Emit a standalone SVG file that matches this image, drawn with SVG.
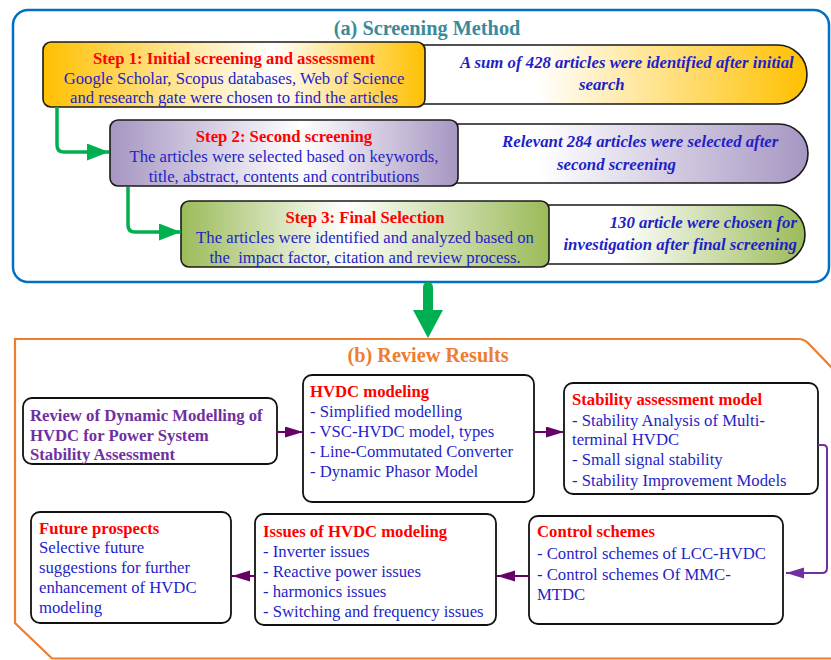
<svg xmlns="http://www.w3.org/2000/svg" width="831" height="660" viewBox="0 0 831 660">
<style>
text{font-family:"Liberation Serif","Times New Roman",serif;font-size:16.7px}
.t{font-weight:bold;fill:#FF0000}
.b{fill:#1F1FC8}
.c{font-weight:bold;font-style:italic;fill:#1F1FC8;font-size:16.8px}
.p{font-weight:bold;fill:#7030A0}
.box{stroke:#1a1a1a;stroke-width:1.6}
.node{fill:#fff;stroke:#111;stroke-width:1.8}
.g{fill:none;stroke:#00B050;stroke-width:3.5}
.pl{fill:none;stroke:#660066;stroke-width:2}
</style>
<defs>
<linearGradient id="o1" x1="0" x2="1"><stop offset="0" stop-color="#FFC000"/><stop offset="0.6" stop-color="#fff"/><stop offset="1" stop-color="#FFC000"/></linearGradient>
<linearGradient id="o2" x1="0" x2="1"><stop offset="0" stop-color="#fff"/><stop offset="0.3" stop-color="#fff"/><stop offset="1" stop-color="#FFC000"/></linearGradient>
<linearGradient id="v1" x1="0" x2="1"><stop offset="0" stop-color="#A696C2"/><stop offset="0.55" stop-color="#fff"/><stop offset="1" stop-color="#A696C2"/></linearGradient>
<linearGradient id="v2" x1="0" x2="1"><stop offset="0" stop-color="#fff"/><stop offset="0.25" stop-color="#fff"/><stop offset="1" stop-color="#A696C2"/></linearGradient>
<linearGradient id="e1" x1="0" x2="1"><stop offset="0" stop-color="#9BBB59"/><stop offset="0.45" stop-color="#fff"/><stop offset="1" stop-color="#9BBB59"/></linearGradient>
<linearGradient id="e2" x1="0" x2="1"><stop offset="0" stop-color="#fff"/><stop offset="0.3" stop-color="#fff"/><stop offset="1" stop-color="#9BBB59"/></linearGradient>
<marker id="ag" markerUnits="userSpaceOnUse" markerWidth="23" markerHeight="18" refX="22" refY="8.5" orient="auto"><path d="M0,0 L22,8.5 L0,17 Z" fill="#00B050"/></marker>
<marker id="ap" markerUnits="userSpaceOnUse" markerWidth="19" markerHeight="12" refX="18" refY="5.5" orient="auto"><path d="M0,0 L18,5.5 L0,11 Z" fill="#660066"/></marker>
<marker id="av" markerUnits="userSpaceOnUse" markerWidth="19" markerHeight="12" refX="18" refY="5.5" orient="auto"><path d="M0,0 L18,5.5 L0,11 Z" fill="#7030A0"/></marker>
</defs>

<g id="screening-frame">
<rect x="13" y="10" width="816" height="272" rx="15" fill="none" stroke="#0070C0" stroke-width="2.5"/>
<text x="427" y="35" text-anchor="middle" style="font-size:20.3px;font-weight:bold;fill:#3A8A9C">(a) Screening Method</text>
</g>

<g id="callout1">
<path class="box" d="M420,45 H777.5 A29.5,29.5 0 0 1 777.5,104 H420 Z" fill="url(#o2)"/>
<text class="c" x="460" y="68">A sum of 428 articles were identified after initial</text>
<text class="c" x="579" y="90">search</text>
</g>
<g id="step1">
<rect class="box" x="43" y="42" width="382" height="65" rx="8" fill="url(#o1)"/>
<text class="t" x="234" y="64" text-anchor="middle">Step 1: Initial screening and assessment</text>
<text class="b" x="234" y="84" text-anchor="middle">Google Scholar, Scopus databases, Web of Science</text>
<text class="b" x="234" y="103" text-anchor="middle">and research gate were chosen to find the articles</text>
</g>

<g id="callout2">
<path class="box" d="M450,124 H778.5 A29.5,29.5 0 0 1 778.5,183 H450 Z" fill="url(#v2)"/>
<text class="c" x="502" y="147">Relevant 284 articles were selected after</text>
<text class="c" x="557" y="170">second screening</text>
</g>
<g id="step2">
<rect class="box" x="110" y="120" width="348" height="66" rx="8" fill="url(#v1)"/>
<text class="t" x="284" y="142" text-anchor="middle">Step 2: Second screening</text>
<text class="b" x="284" y="162" text-anchor="middle">The articles were selected based on keywords,</text>
<text class="b" x="284" y="182" text-anchor="middle">title, abstract, contents and contributions</text>
</g>

<g id="callout3">
<path class="box" d="M540,205 H775.5 A29.5,29.5 0 0 1 775.5,264 H540 Z" fill="url(#e2)"/>
<text class="c" x="797" y="228" text-anchor="end">130 article were chosen for</text>
<text class="c" x="797" y="250" text-anchor="end">investigation after final screening</text>
</g>
<g id="step3">
<rect class="box" x="181" y="201" width="368" height="66" rx="8" fill="url(#e1)"/>
<text class="t" x="365" y="223" text-anchor="middle">Step 3: Final Selection</text>
<text class="b" x="365" y="243" text-anchor="middle">The articles were identified and analyzed based on</text>
<text class="b" x="365" y="263" text-anchor="middle" xml:space="preserve">the  impact factor, citation and review process.</text>
</g>

<g id="review-frame">
<path d="M834,370 L808,343 Q804,339 798,339 H15 V623 L52,658.5 H834" fill="none" stroke="#ED7D31" stroke-width="2.2"/>
<text x="428" y="362" text-anchor="middle" style="font-size:20.3px;font-weight:bold;fill:#ED7D31">(b) Review Results</text>
</g>

<g id="review">
<rect class="node" x="23" y="398" width="254" height="66" rx="9"/>
<text class="p" x="30" y="421">Review of Dynamic Modelling of</text>
<text class="p" x="30" y="441">HVDC for Power System</text>
<text class="p" x="30" y="460">Stability Assessment</text>
</g>

<g id="hvdc-modeling">
<rect class="node" x="303" y="375" width="231" height="127" rx="9"/>
<text class="t" x="310" y="397">HVDC modeling</text>
<text class="b" x="310" y="417">- Simplified modelling</text>
<text class="b" x="310" y="437">- VSC-HVDC model, types</text>
<text class="b" x="310" y="457">- Line-Commutated Converter</text>
<text class="b" x="310" y="477">- Dynamic Phasor Model</text>
</g>

<g id="stability">
<rect class="node" x="564" y="383" width="254" height="111" rx="9"/>
<text class="t" x="572" y="405">Stability assessment model</text>
<text class="b" x="572" y="426">- Stability Analysis of Multi-</text>
<text class="b" x="572" y="445">terminal HVDC</text>
<text class="b" x="572" y="465">- Small signal stability</text>
<text class="b" x="572" y="486">- Stability Improvement Models</text>
</g>

<g id="control">
<rect class="node" x="529" y="516" width="254" height="108" rx="9"/>
<text class="t" x="537" y="537">Control schemes</text>
<text class="b" x="537" y="559">- Control schemes of LCC-HVDC</text>
<text class="b" x="537" y="580">- Control schemes Of MMC-</text>
<text class="b" x="537" y="600">MTDC</text>
</g>

<g id="issues">
<rect class="node" x="255" y="514" width="241" height="111" rx="9"/>
<text class="t" x="263" y="537">Issues of HVDC modeling</text>
<text class="b" x="263" y="557">- Inverter issues</text>
<text class="b" x="263" y="577">- Reactive power issues</text>
<text class="b" x="263" y="597">- harmonics issues</text>
<text class="b" x="263" y="617">- Switching and frequency issues</text>
</g>

<g id="future">
<rect class="node" x="31" y="512" width="200" height="111" rx="9"/>
<text class="t" x="39" y="534">Future prospects</text>
<text class="b" x="39" y="553">Selective future</text>
<text class="b" x="39" y="573">suggestions for further</text>
<text class="b" x="39" y="593">enhancement of HVDC</text>
<text class="b" x="39" y="613">modeling</text>
</g>

<g id="connectors">
<path class="g" d="M57,107 V145 Q57,152 64,152 H109" marker-end="url(#ag)"/>
<path class="g" d="M128,187 V225 Q128,232 135,232 H181" marker-end="url(#ag)"/>
<path d="M428,287 V311" stroke="#00B050" stroke-width="10" stroke-linecap="round" fill="none"/>
<path d="M413,310 H443 L428,338 Z" fill="#00B050"/>
<path class="pl" d="M276,432 H303" marker-end="url(#ap)"/>
<path class="pl" d="M534,432 H564" marker-end="url(#ap)"/>
<path d="M818,445 H823 Q827,445 827,449 V568 Q827,573 822,573 H786" fill="none" stroke="#7030A0" stroke-width="2" marker-end="url(#av)"/>
<path class="pl" d="M529,576 H497" marker-end="url(#ap)"/>
<path class="pl" d="M255,576 H232" marker-end="url(#ap)"/>
</g>
</svg>
